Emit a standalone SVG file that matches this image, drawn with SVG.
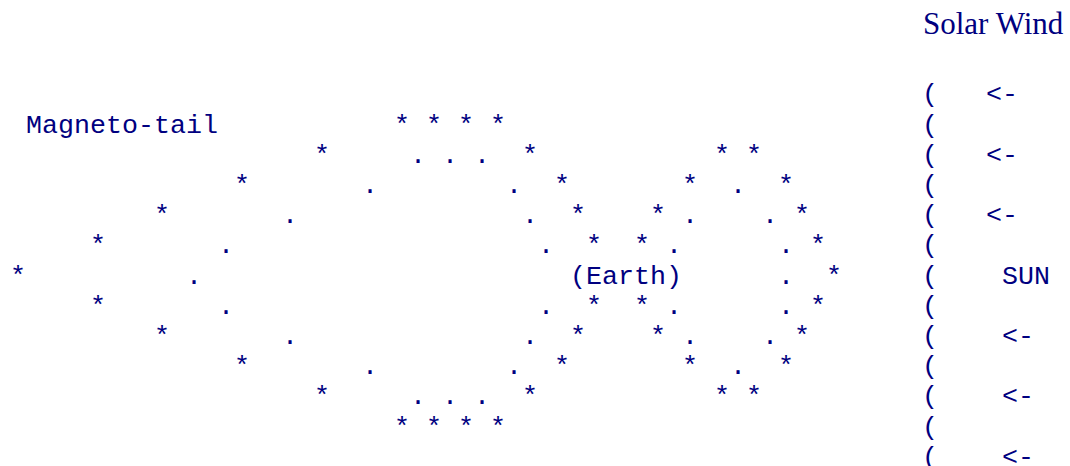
<svg xmlns="http://www.w3.org/2000/svg" width="1070" height="466" viewBox="0 0 1070 466">
<style>
  text { fill: #000080; }
  .m { font-family: "Liberation Mono", "Courier New", monospace; font-size: 26.67px; white-space: pre; }
  .s { font-family: "Liberation Serif", "Times New Roman", serif; font-size: 31px; }
</style>
<rect width="1070" height="466" fill="#ffffff"/>
<g id="magnetotail" class="m">
  <text x="26" y="132.5">Magneto-tail</text>
  <text x="394 426 458 490" y="132.5">****</text>
  <text x="314 410 442 474 522" y="162.7">*...*</text>
  <text x="234 362 506" y="192.9">*..</text>
  <text x="154 282 522" y="223.1">*..</text>
  <text x="90 218 538" y="253.3">*..</text>
  <text x="10 186" y="283.5">*.</text>
  <text x="90 218 538" y="313.7">*..</text>
  <text x="154 282 522" y="343.9">*..</text>
  <text x="234 362 506" y="374.1">*..</text>
  <text x="314 410 442 474 522" y="404.3">*...*</text>
  <text x="394 426 458 490" y="434.5">****</text>
</g>
<g id="earth" class="m">
  <text x="714 746" y="162.7">**</text>
  <text x="554 682 730 778" y="192.9">**.*</text>
  <text x="570 650 682 762 794" y="223.1">**..*</text>
  <text x="586 634 666 778 810" y="253.3">**..*</text>
  <text x="570" y="283.5">(Earth)</text>
  <text x="778 826" y="283.5">.*</text>
  <text x="586 634 666 778 810" y="313.7">**..*</text>
  <text x="570 650 682 762 794" y="343.9">**..*</text>
  <text x="554 682 730 778" y="374.1">**.*</text>
  <text x="714 746" y="404.3">**</text>
</g>
<g id="sun">
  <text class="s" x="923" y="34">Solar Wind</text>
  <g class="m">
    <text x="922" y="102.3">(</text>
    <text x="922" y="132.5">(</text>
    <text x="922" y="162.7">(</text>
    <text x="922" y="192.9">(</text>
    <text x="922" y="223.1">(</text>
    <text x="922" y="253.3">(</text>
    <text x="922" y="283.5">(</text>
    <text x="922" y="313.7">(</text>
    <text x="922" y="343.9">(</text>
    <text x="922" y="374.1">(</text>
    <text x="922" y="404.3">(</text>
    <text x="922" y="434.5">(</text>
    <text x="922" y="464.7">(</text>
    <text x="986" y="102.3">&lt;-</text>
    <text x="986" y="162.7">&lt;-</text>
    <text x="986" y="223.1">&lt;-</text>
    <text x="1002" y="283.5">SUN</text>
    <text x="1002" y="343.9">&lt;-</text>
    <text x="1002" y="404.3">&lt;-</text>
    <text x="1002" y="464.7">&lt;-</text>
  </g>
</g>
</svg>
